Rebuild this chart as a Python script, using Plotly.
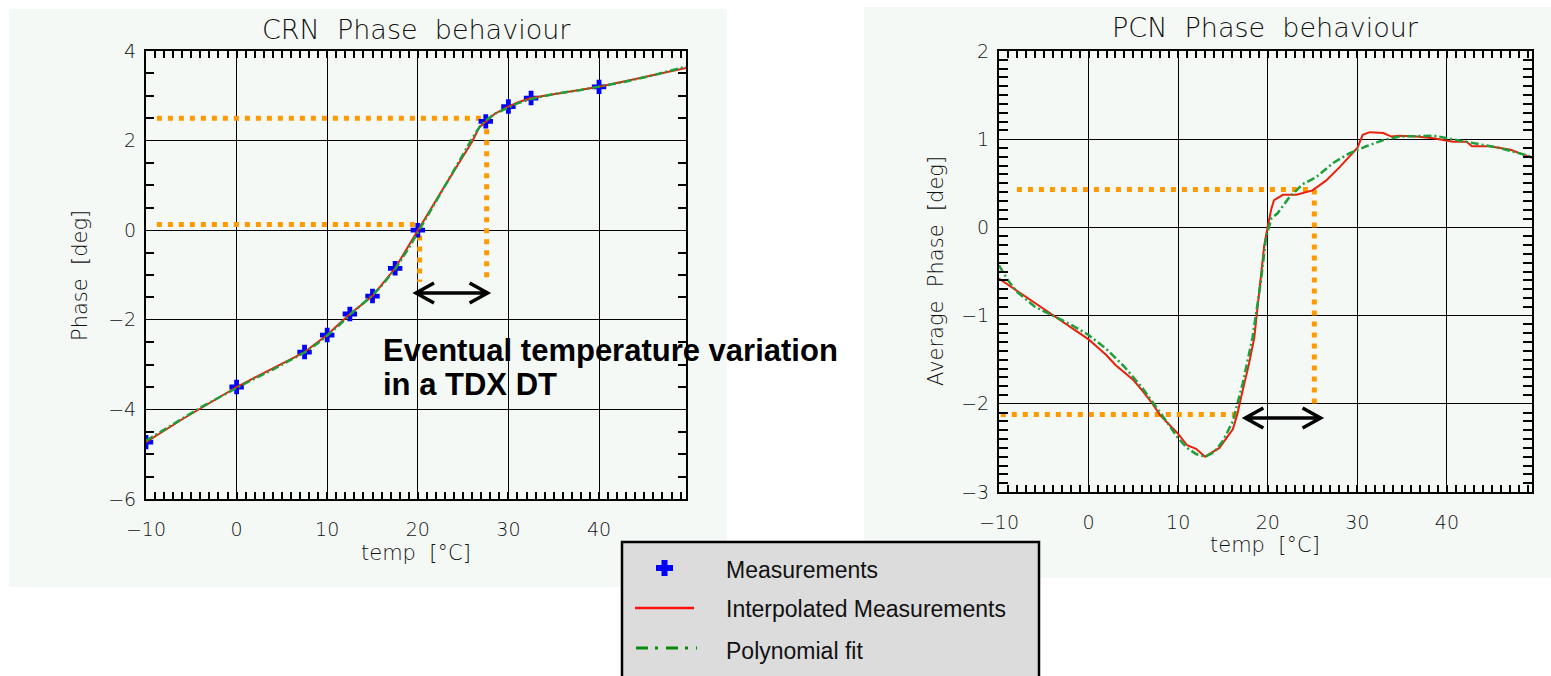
import plotly.graph_objects as go

W, H = 1551, 676

# ---------------- data ----------------
crn_meas_x = [-10, 0, 7.5, 10, 12.5, 15, 17.5, 20, 27.5, 30, 32.5, 40]
crn_meas_y = [-4.73, -3.5, -2.72, -2.34, -1.87, -1.47, -0.85, 0.0, 2.43, 2.76, 2.95, 3.2]

crn_interp_x = [-10, -8, -6, -4, -2, 0, 2, 4, 6, 7.5, 9, 10, 11, 12.5, 14, 15, 16, 17.5, 19, 20,
                21, 22, 23, 24, 25, 26, 26.8, 27.5, 28.5, 30, 31, 32.5, 35, 38, 40, 43, 46, 49.6]
crn_interp_y = [-4.73, -4.47, -4.22, -3.98, -3.74, -3.5, -3.29, -3.08, -2.88, -2.72, -2.49, -2.34,
                -2.15, -1.87, -1.63, -1.47, -1.22, -0.85, -0.34, 0.0, 0.34, 0.67, 1.0, 1.32, 1.65,
                1.98, 2.3, 2.43, 2.6, 2.76, 2.85, 2.95, 3.03, 3.12, 3.2, 3.33, 3.46, 3.62]
crn_fit_y = [-4.70, -4.45, -4.20, -3.96, -3.74, -3.52, -3.31, -3.11, -2.9, -2.73, -2.52, -2.36,
             -2.18, -1.89, -1.63, -1.45, -1.24, -0.87, -0.40, -0.06, 0.29, 0.64, 0.99, 1.34, 1.70,
             2.05, 2.3, 2.45, 2.6, 2.73, 2.83, 2.93, 3.04, 3.13, 3.2, 3.32, 3.46, 3.65]

pcn_interp_x = [-10, -8, -6, -4, -2, -1, 0, 1, 2, 3, 4, 5, 6, 7, 8, 9, 10, 11, 12, 13, 14.6,
                16.1, 16.6, 17.2, 17.9, 18.5, 19.1, 19.6, 20, 20.4, 20.7, 21.7, 23.2, 25.0, 26.5,
                28.0, 30, 30.6, 31.4, 32.9, 33.8, 34.7, 36.6, 38.5, 40.7, 42.2, 42.8, 44.8, 47.1, 49.5]
pcn_interp_y = [-0.58, -0.72, -0.86, -1.0, -1.13, -1.2, -1.27, -1.36, -1.45, -1.56, -1.64, -1.73,
                -1.85, -1.98, -2.13, -2.24, -2.34, -2.47, -2.51, -2.6, -2.5,
                -2.29, -2.12, -1.85, -1.55, -1.25, -0.64, -0.21, 0.01, 0.21, 0.31, 0.37, 0.37,
                0.42, 0.53, 0.68, 0.9, 1.05, 1.08, 1.07, 1.03, 1.04, 1.03, 1.01, 0.97, 0.97, 0.92,
                0.92, 0.88, 0.79]

pcn_fit_x = [-10, -9, -8, -7, -6, -4, -2, 0, 2, 4, 6, 8, 10, 11, 12, 13, 14, 15, 16.1, 17.2,
             18.3, 19.25, 19.8, 20.4, 21.1, 22.4, 23.9, 25.4, 27.3, 29.1, 31, 32.9, 34.7, 38.5,
             42.2, 45.9, 49.5]
pcn_fit_y = [-0.43, -0.6, -0.73, -0.82, -0.9, -1.0, -1.1, -1.22, -1.38, -1.58, -1.82, -2.1,
             -2.39, -2.5, -2.57, -2.6, -2.55, -2.42, -2.2, -1.77, -1.25, -0.6, -0.12, 0.1, 0.16,
             0.34, 0.49, 0.57, 0.73, 0.84, 0.92, 0.99, 1.03, 1.04, 0.97, 0.9, 0.8]

# orange dotted guide lines (x list, y list) per panel
crn_guides = [([-8.8, 27.5], [2.5, 2.5]), ([-8.8, 20.0], [0.13, 0.13]),
              ([20.2, 20.2], [0.13, -1.15]), ([27.6, 27.6], [2.5, -1.15])]
pcn_guides = [([-8.0, 25.2], [0.43, 0.43]), ([25.2, 25.2], [0.43, -2.02]),
              ([-9.8, 16.6], [-2.12, -2.12])]

# double arrows: (y, x_from, x_to)
crn_arrow = (-1.4, 19.8, 27.7)
pcn_arrow = (-2.16, 17.5, 25.9)

x_ticks = [-10, 0, 10, 20, 30, 40]

# ---------------- layout geometry (pixels) ----------------
LP = dict(x0=146, x1=686, y0=51, y1=499, xr=[-10, 49.6], yr=[-6, 4])
RP = dict(x0=999, x1=1532, y0=51, y1=492, xr=[-10, 49.5], yr=[-3, 2])

def fx(p):
    return p / W

def fy(p):
    return 1 - p / H

ORANGE = "#ff9900"
RED = "#e8200c"
GREEN = "#1e9e3c"
BLUE = "#0000ff"
BG = "#f5f9f6"
IDL_FONT = "DejaVu Sans"

fig = go.Figure()

def add_panel(xa, ya, guides, mx, my, ix, iy, fitx, fity):
    for gx, gy in guides:
        fig.add_trace(go.Scatter(x=gx, y=gy, mode="lines", xaxis=xa, yaxis=ya,
                                 line=dict(color=ORANGE, width=5, dash="5px,6px"),
                                 showlegend=False, hoverinfo="skip"))
    if mx is not None:
        fig.add_trace(go.Scatter(x=mx, y=my, mode="markers", xaxis=xa, yaxis=ya,
                                 name="Measurements",
                                 marker=dict(symbol="cross", size=12, color=BLUE,
                                             line=dict(width=0)),
                                 showlegend=False))
    fig.add_trace(go.Scatter(x=ix, y=iy, mode="lines", xaxis=xa, yaxis=ya,
                             name="Interpolated Measurements",
                             line=dict(color=RED, width=2), showlegend=False))
    fig.add_trace(go.Scatter(x=fitx, y=fity, mode="lines", xaxis=xa, yaxis=ya,
                             name="Polynomial fit",
                             line=dict(color=GREEN, width=2.5, dash="8px,3px,2px,3px"),
                             showlegend=False))

add_panel("x", "y", crn_guides, crn_meas_x, crn_meas_y, crn_interp_x, crn_interp_y,
          crn_interp_x, crn_fit_y)
add_panel("x2", "y2", pcn_guides, None, None, pcn_interp_x, pcn_interp_y,
          pcn_fit_x, pcn_fit_y)

def axis_common(P, horizontal, minor_dtick, minor_len):
    if horizontal:
        dom = [fx(P["x0"]), fx(P["x1"])]
        rng = P["xr"]
    else:
        dom = [fy(P["y1"]), fy(P["y0"])]
        rng = P["yr"]
    d = dict(domain=dom, range=rng, automargin=False,
             showgrid=True, gridcolor="black", gridwidth=1,
             zeroline=False, showline=True, linecolor="black", linewidth=2,
             mirror="ticks", ticks="inside", ticklen=8, tickcolor="black", tickwidth=1,
             minor=dict(dtick=minor_dtick, ticks="inside", ticklen=minor_len,
                        tickcolor="black", tickwidth=1.5, showgrid=False),
             tickfont=dict(family=IDL_FONT, size=19, color="#111", weight=200),
             fixedrange=True)
    return d

xa1 = axis_common(LP, True, 1, 7)
xa1.update(tickvals=x_ticks, ticklabelstandoff=12, anchor="y")
ya1 = axis_common(LP, False, 0.5, 8)
ya1.update(dtick=2, tick0=0, ticklabelstandoff=4, anchor="x")
xa2 = axis_common(RP, True, 1, 7)
xa2.update(tickvals=x_ticks, ticklabelstandoff=12, anchor="y2")
ya2 = axis_common(RP, False, 0.1, 9)
ya2.update(dtick=1, tick0=0, ticklabelstandoff=4, anchor="x2")

shapes = []
# panel backgrounds
shapes.append(dict(type="rect", xref="paper", yref="paper", x0=fx(9), x1=fx(727),
                   y0=fy(587), y1=fy(9), fillcolor=BG, line=dict(width=0), layer="below"))
shapes.append(dict(type="rect", xref="paper", yref="paper", x0=fx(864), x1=fx(1551),
                   y0=fy(578), y1=fy(7), fillcolor=BG, line=dict(width=0), layer="below"))

def arrow_shape(P, arrow, xref, yref):
    y, xa, xb = arrow
    sx = (P["x1"] - P["x0"]) / (P["xr"][1] - P["xr"][0])
    sy = (P["y1"] - P["y0"]) / (P["yr"][1] - P["yr"][0])
    ax, ay = 18 / sx, 10 / sy
    path = (f"M{xa},{y} L{xb},{y} "
            f"M{xa + ax},{y + ay} L{xa},{y} L{xa + ax},{y - ay} "
            f"M{xb - ax},{y + ay} L{xb},{y} L{xb - ax},{y - ay}")
    return dict(type="path", xref=xref, yref=yref, path=path,
                line=dict(color="black", width=3.5))

shapes.append(arrow_shape(LP, crn_arrow, "x", "y"))
shapes.append(arrow_shape(RP, pcn_arrow, "x2", "y2"))

# manual legend box
shapes.append(dict(type="rect", xref="paper", yref="paper", x0=fx(622), x1=fx(1039),
                   y0=fy(690), y1=fy(542), fillcolor="#dcdcdc",
                   line=dict(color="black", width=2.5)))
# legend symbols
shapes.append(dict(type="rect", xref="paper", yref="paper", x0=fx(656), x1=fx(673),
                   y0=fy(571), y1=fy(565), fillcolor=BLUE, line=dict(width=0)))
shapes.append(dict(type="rect", xref="paper", yref="paper", x0=fx(661.5), x1=fx(667.5),
                   y0=fy(576), y1=fy(560), fillcolor=BLUE, line=dict(width=0)))
shapes.append(dict(type="line", xref="paper", yref="paper", x0=fx(635), x1=fx(694),
                   y0=fy(608), y1=fy(608), line=dict(color="#ff1010", width=2.5)))
shapes.append(dict(type="line", xref="paper", yref="paper", x0=fx(636), x1=fx(697),
                   y0=fy(648), y1=fy(648),
                   line=dict(color="#0a8a0a", width=3, dash="12px,7px,3px,8px")))

annotations = []

def txt(x, y, text, size, family=IDL_FONT, xanchor="center", angle=0, bold=False,
        weight=200, color="#111"):
    annotations.append(dict(xref="paper", yref="paper", x=fx(x), y=fy(y), text=text,
                            showarrow=False, xanchor=xanchor, yanchor="middle",
                            textangle=angle,
                            font=dict(family=family, size=size, color=color,
                                      weight=700 if bold else weight)))

# titles
txt(416, 29, "CRN  Phase  behaviour", 27)
txt(1265, 27, "PCN  Phase  behaviour", 27)
txt(80, 276, "Phase  [deg]", 21, angle=-90)
txt(936, 271, "Average  Phase  [deg]", 21, angle=-90)
txt(416, 553, "temp  [°C]", 21)
txt(1265, 545, "temp  [°C]", 21)

# annotation text
txt(381, 350, "Eventual temperature variation", 31, family="Liberation Sans",
    xanchor="left", bold=True, color="black")
txt(381, 384, "in a TDX DT", 31, family="Liberation Sans", xanchor="left", bold=True,
    color="black")

# legend texts
LEG_FONT = "Liberation Sans"
txt(724, 570, "Measurements", 23, family=LEG_FONT, xanchor="left", weight=400)
txt(724, 609, "Interpolated Measurements", 23, family=LEG_FONT, xanchor="left", weight=400)
txt(724, 651, "Polynomial fit", 23, family=LEG_FONT, xanchor="left", weight=400)

fig.update_layout(
    width=W, height=H, autosize=False,
    margin=dict(l=0, r=0, t=0, b=0, pad=0),
    paper_bgcolor="white", plot_bgcolor="rgba(0,0,0,0)",
    xaxis=xa1, yaxis=ya1, xaxis2=xa2, yaxis2=ya2,
    shapes=shapes, annotations=annotations, showlegend=False,
)

fig.write_html("out.html")
